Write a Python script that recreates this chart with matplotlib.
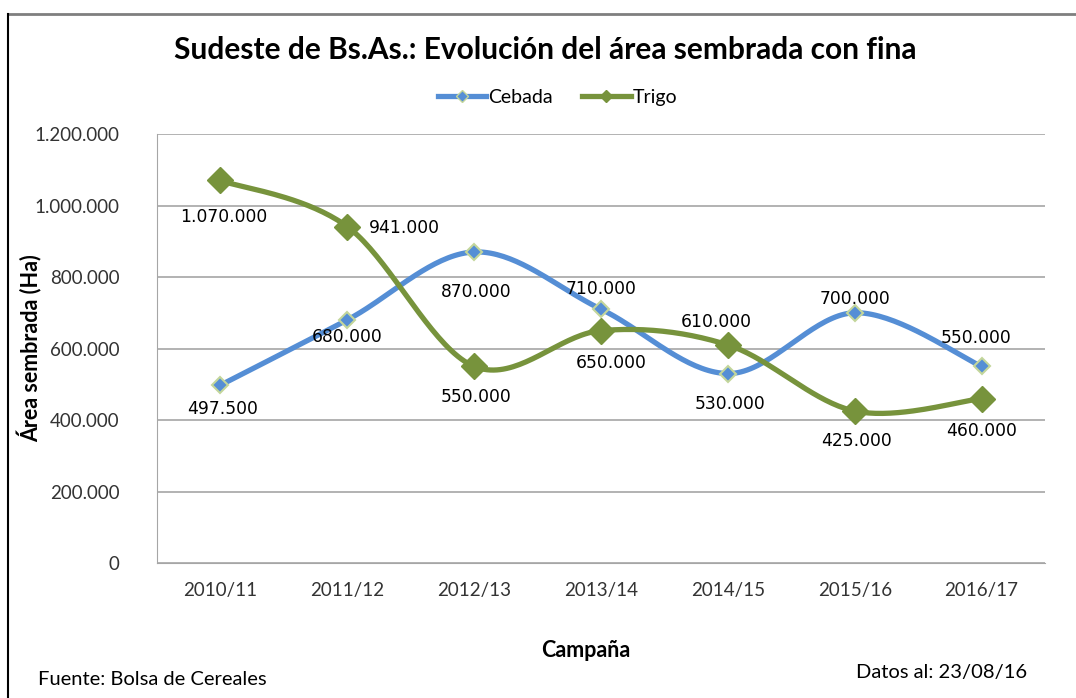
import numpy as np
import matplotlib
matplotlib.use("Agg")
import matplotlib.pyplot as plt
from matplotlib.lines import Line2D

campanas = ["2010/11", "2011/12", "2012/13", "2013/14", "2014/15", "2015/16", "2016/17"]
cebada = [497500, 680000, 870000, 710000, 530000, 700000, 550000]
trigo = [1070000, 941000, 550000, 650000, 610000, 425000, 460000]

# desplazamiento de etiquetas (pixeles) y alineacion
off_cebada = [(2, -24), (0, -17), (2, -40), (0, 20), (2, -30), (0, 14), (-6, 28)]
off_trigo = [(3, -37), (22, -1), (2, -31), (10, -32), (-12, 23), (2, -30), (0, -32)]
ha_trigo = ["center", "left", "center", "center", "center", "center", "center"]

azul = "#558ED5"
verde = "#77933C"
borde_marca = "#C3D69B"


def suavizar(y, n=40):
    # curva tipo Excel (Bezier con tangentes Catmull-Rom)
    x = np.arange(len(y), dtype=float)
    y = np.asarray(y, dtype=float)
    xs, ys = [], []
    t = np.linspace(0, 1, n)
    for i in range(len(y) - 1):
        i0 = max(i - 1, 0)
        i3 = min(i + 2, len(y) - 1)
        p0 = np.array([x[i], y[i]])
        p3 = np.array([x[i + 1], y[i + 1]])
        c1 = p0 + (p3 - np.array([x[i0], y[i0]])) / 6
        c2 = p3 - (np.array([x[i3], y[i3]]) - p0) / 6
        pts = ((1 - t) ** 3)[:, None] * p0 + (3 * (1 - t) ** 2 * t)[:, None] * c1 \
            + (3 * (1 - t) * t ** 2)[:, None] * c2 + (t ** 3)[:, None] * p3
        xs.extend(pts[:, 0])
        ys.extend(pts[:, 1])
    return xs, ys


def fmt(v):
    return f"{v:,.0f}".replace(",", ".")


fig = plt.figure(figsize=(10.76, 6.98), dpi=100)
ax = fig.add_axes([0.1459, 0.1934, 0.8253, 0.6146])

x = np.arange(len(campanas))
xs, ys = suavizar(cebada)
ax.plot(xs, ys, color=azul, lw=3.8, solid_capstyle="round", zorder=3)
ax.plot(x, cebada, ls="none", marker="D", ms=8, mfc=azul, mec=borde_marca, mew=1.5, zorder=4)
xs, ys = suavizar(trigo)
ax.plot(xs, ys, color=verde, lw=3.8, solid_capstyle="round", zorder=3)
ax.plot(x, trigo, ls="none", marker="D", ms=13, mfc=verde, mec=verde, mew=1, zorder=4)

for i, v in enumerate(cebada):
    ax.annotate(fmt(v), (i, v), xytext=off_cebada[i], textcoords="offset pixels",
                ha="center", va="center", fontsize=12.3, family="DejaVu Sans", zorder=5)
for i, v in enumerate(trigo):
    ax.annotate(fmt(v), (i, v), xytext=off_trigo[i], textcoords="offset pixels",
                ha=ha_trigo[i], va="center", fontsize=12.3, family="DejaVu Sans", zorder=5)

ax.set_xlim(-0.5, len(campanas) - 0.5)
ax.set_ylim(0, 1200000)
ax.set_yticks(np.arange(0, 1200001, 200000))
ax.set_yticklabels([fmt(v) for v in np.arange(0, 1200001, 200000)], fontsize=13.5,
                   family="Lato", color="#333333")
ax.set_xticks(x)
ax.set_xticklabels(campanas, fontsize=13.5, family="Lato", color="#333333")
ax.tick_params(length=0, pad=14)
ax.tick_params(axis="y", pad=27)
ax.grid(axis="y", color="#A6A6A6", lw=1.2)
ax.set_axisbelow(True)
for s in ["top", "right"]:
    ax.spines[s].set_visible(False)
ax.spines["left"].set_color("#A6A6A6")
ax.spines["bottom"].set_color("#A6A6A6")

ax.set_ylabel("Área sembrada (Ha)", fontsize=15.5, fontweight="bold", family="Lato")
ax.yaxis.set_label_coords(-0.1295, 0.5)
ax.set_xlabel("Campaña", fontsize=15.5, fontweight="bold", family="Lato")
ax.xaxis.set_label_coords(0.483, -0.1795)

fig.text(0.507, 0.929, "Sudeste de Bs.As.: Evolución del área sembrada con fina",
         ha="center", va="center", fontsize=21.5, fontweight="bold", family="Lato")

handles = [Line2D([], [], color=azul, lw=3.8, marker="D", ms=6, mfc=azul, mec=borde_marca),
           Line2D([], [], color=verde, lw=3.8, marker="D", ms=6, mfc=verde, mec=verde)]
fig.legend(handles, ["Cebada", "Trigo"], loc="center", bbox_to_anchor=(0.518, 0.860),
           ncol=2, frameon=False, prop={"family": "Lato", "size": 14},
           handlelength=2.5, handletextpad=0.1, columnspacing=1.5)

fig.text(0.035, 0.027, "Fuente: Bolsa de Cereales", ha="left", va="center",
         fontsize=14.5, family="Lato")
fig.text(0.955, 0.037, "Datos al: 23/08/16", ha="right", va="center",
         fontsize=14.5, family="Lato")

# marco del grafico
fig.add_artist(Line2D([8 / 1076, 1.0], [1 - 13.5 / 698] * 2, transform=fig.transFigure,
                      color="#7F7F7F", lw=2))
fig.add_artist(Line2D([8 / 1076] * 2, [0, 1 - 13.5 / 698], transform=fig.transFigure,
                      color="black", lw=1.5))

fig.savefig("out.png", dpi=100)
